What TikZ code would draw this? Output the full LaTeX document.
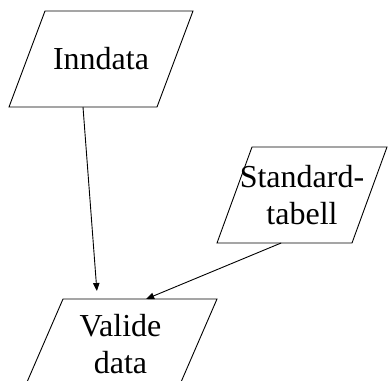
\documentclass[tikz,border=0pt]{standalone}
\usepackage{fontspec}
\setmainfont{Liberation Serif}
\usetikzlibrary{arrows.meta,calc}

\tikzset{
  ioframe/.style={draw, line width=0.9pt, line join=miter},
  iotext/.style={inner sep=0pt, align=center, font=\fontsize{32}{37}\selectfont},
  flow/.style={line width=0.9pt, -{Triangle[length=8pt,width=6.5pt]}}
}

% parallelogram: #1 name, #2 top-left, #3 top-right, #4 bottom-right, #5 bottom-left
\newcommand{\ioshape}[5]{%
  \coordinate (#1-tl) at #2;
  \coordinate (#1-tr) at #3;
  \coordinate (#1-br) at #4;
  \coordinate (#1-bl) at #5;
  \draw[ioframe] (#1-tl) -- (#1-tr) -- (#1-br) -- (#1-bl) -- cycle;
}

\begin{document}
\begin{tikzpicture}[x=1pt,y=-1pt]
  \useasboundingbox (0,0) rectangle (388,380);

  % input/output parallelograms
  \ioshape{inn}{(45,11)}{(193,11)}{(157,107)}{(9,107)}
  \node[iotext] (inn) at (101,59) {Inndata};

  \ioshape{std}{(252,147)}{(387,147)}{(352,243)}{(217,243)}
  \node[iotext] (std) at (302,195) {Standard-\\tabell};

  \ioshape{val}{(63,299)}{(217,299)}{(178,389)}{(24,389)}
  \node[iotext] (val) at (120.5,344) {Valide\\data};

  % connector end points
  \coordinate (innout) at ($(inn-bl)!0.5!(inn-br)$);
  \coordinate (stdout) at ($(std-bl)!0.475!(std-br)$);
  \coordinate (valinA) at ($(val-tl)!0.22!(val-tr)+(0,-8)$);
  \coordinate (valinB) at ($(val-tl)!0.54!(val-tr)$);

  \draw[flow] (innout) -- (valinA);
  \draw[flow] (stdout) -- (valinB);
\end{tikzpicture}
\end{document}
